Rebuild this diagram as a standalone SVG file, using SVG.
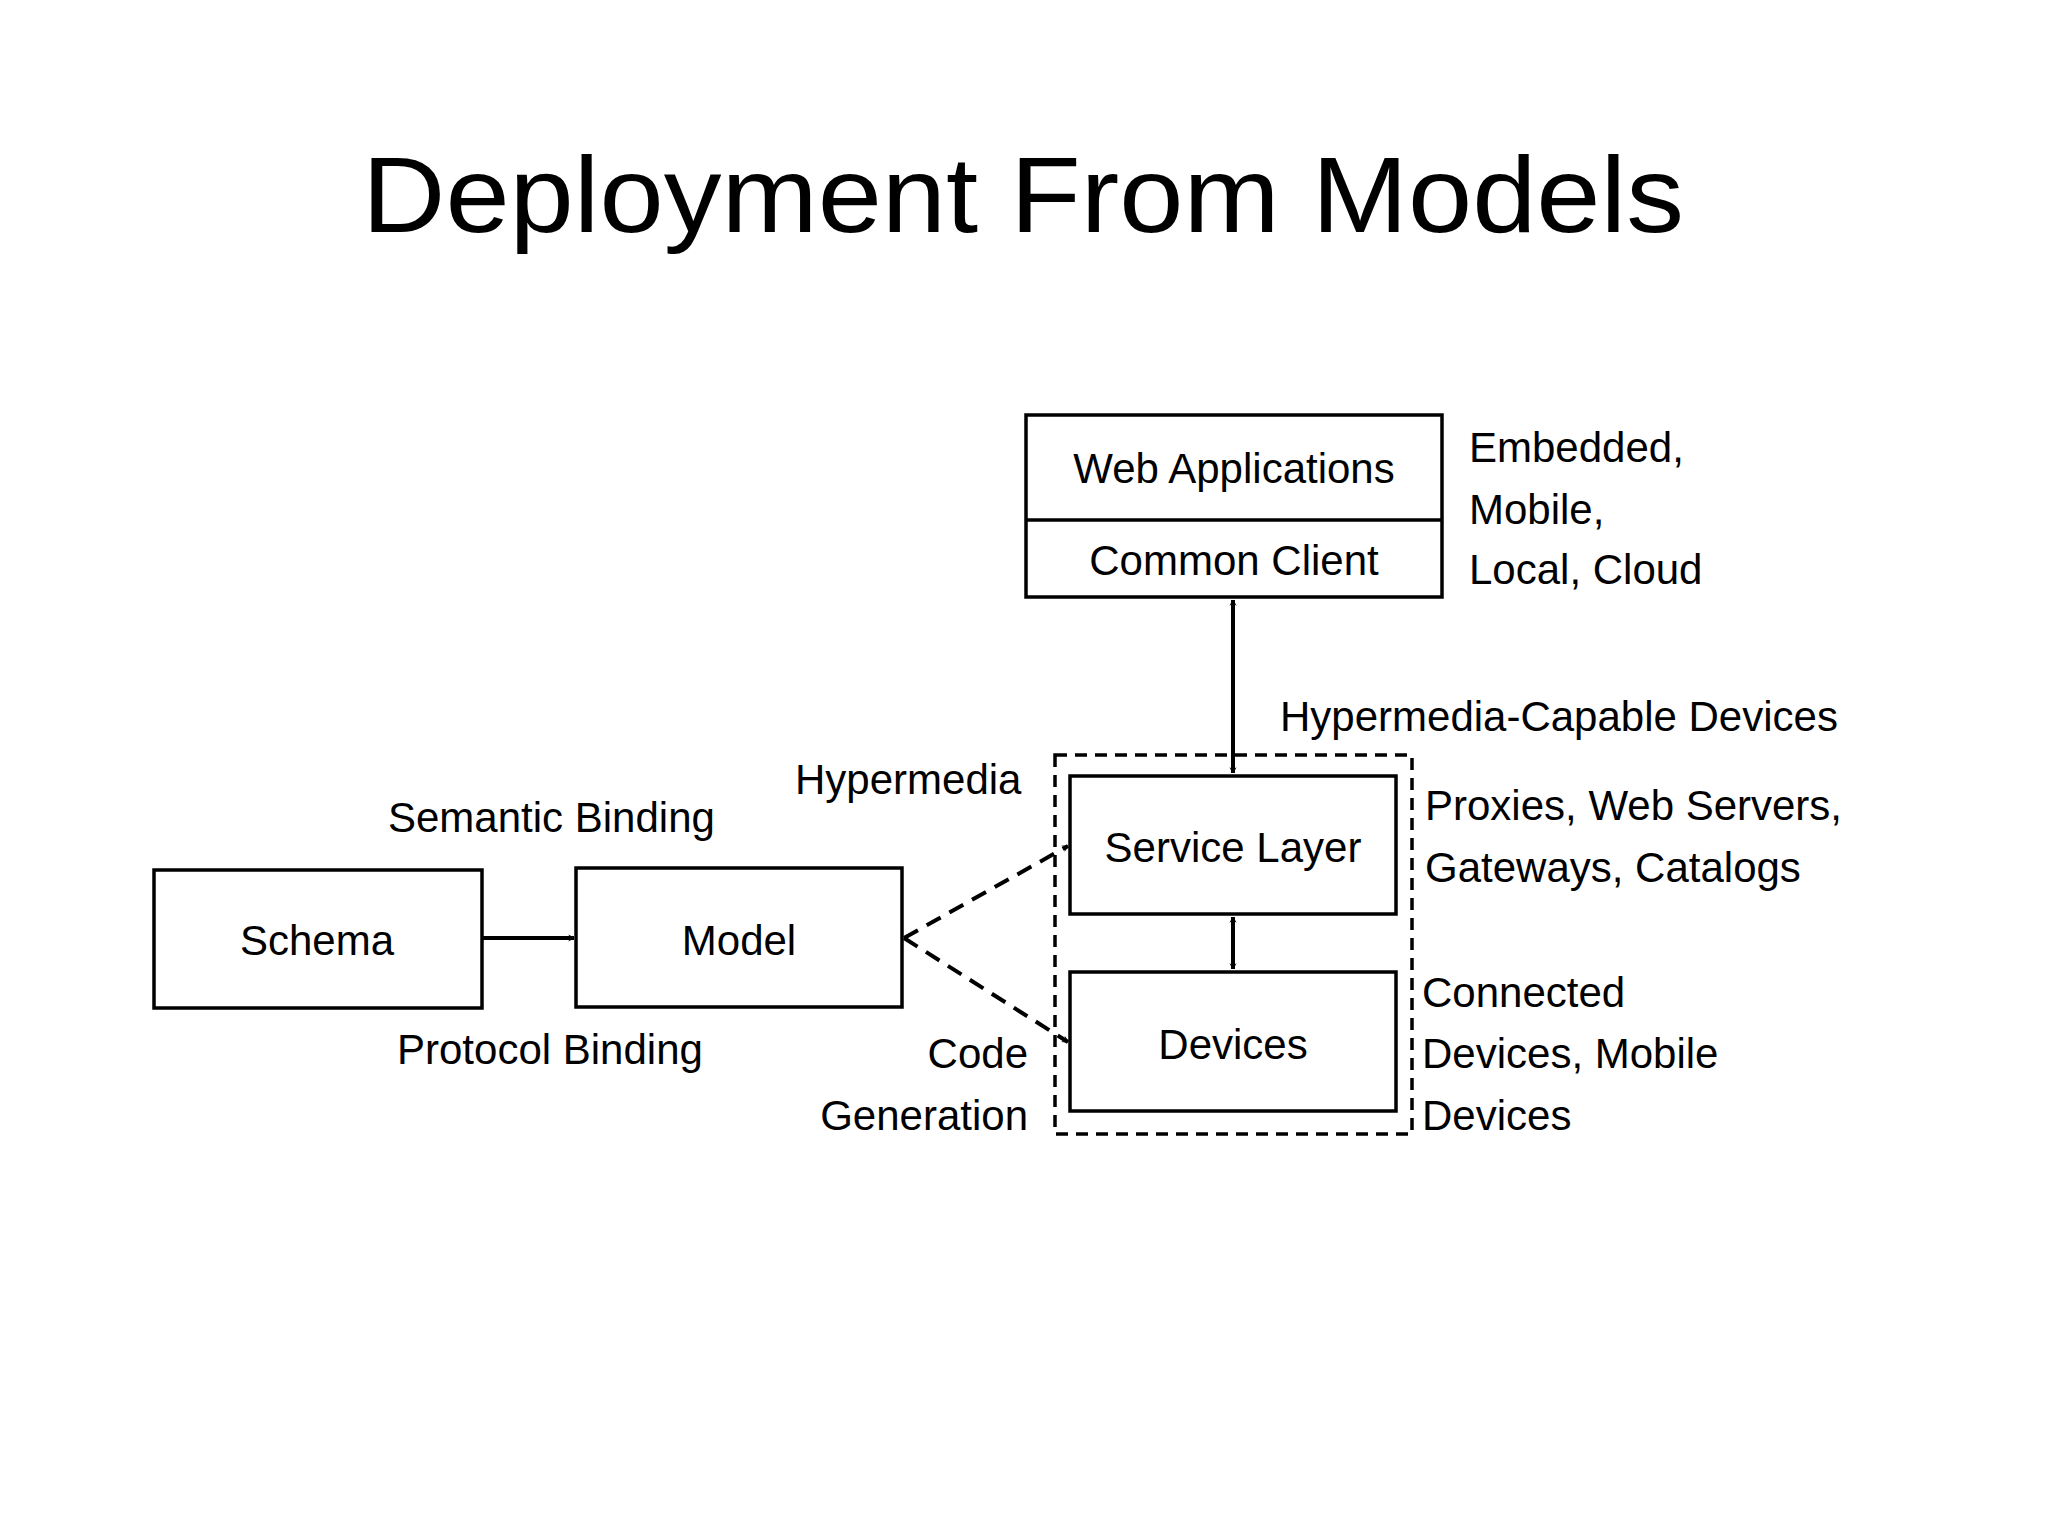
<svg xmlns="http://www.w3.org/2000/svg" width="2048" height="1536" viewBox="0 0 2048 1536">
<style>
text{font-family:"Liberation Sans",Arial,sans-serif;font-size:42px;fill:#000}
.c{text-anchor:middle}.r{text-anchor:end}
.box{fill:#fff;stroke:#000;stroke-width:3.5}
.ln{stroke:#000;stroke-width:4;fill:none}
.d{stroke-dasharray:16 10}
</style>
<defs>
<marker id="a" viewBox="0 0 10 10" refX="9" refY="5" markerWidth="6" markerHeight="6" orient="auto-start-reverse" markerUnits="userSpaceOnUse" style="overflow:visible">
<path d="M0,0 L9,5 L0,10" fill="none" stroke="#000" stroke-width="1.4"/>
</marker>
</defs>
<rect width="2048" height="1536" fill="#fff"/>
<text x="1023" y="232" class="c" style="font-size:108px" textLength="1322" lengthAdjust="spacingAndGlyphs">Deployment From Models</text>
<g id="container"><rect x="1055" y="755" width="357" height="379" fill="none" stroke="#000" stroke-width="3.5" stroke-dasharray="12 8"/></g>
<g id="webapp"><rect class="box" x="1026" y="415" width="416" height="182"/><line class="ln" x1="1026" y1="520" x2="1442" y2="520" style="stroke-width:3.5"/>
<text x="1234" y="483" class="c">Web Applications</text><text x="1234" y="575" class="c">Common Client</text></g>
<g id="service"><rect class="box" x="1070" y="776" width="326" height="138"/><text x="1233" y="862" class="c">Service Layer</text></g>
<g id="devices"><rect class="box" x="1070" y="972" width="326" height="139"/><text x="1233" y="1059" class="c">Devices</text></g>
<g id="schema"><rect class="box" x="154" y="870" width="328" height="138"/><text x="317" y="955" class="c">Schema</text></g>
<g id="model"><rect class="box" x="576" y="868" width="326" height="139"/><text x="739" y="955" class="c">Model</text></g>
<g id="connectors">
<line class="ln" x1="482" y1="938" x2="574" y2="938" marker-end="url(#a)"/>
<line class="ln" x1="1233" y1="600" x2="1233" y2="773" marker-start="url(#a)" marker-end="url(#a)"/>
<line class="ln" x1="1233" y1="917" x2="1233" y2="969" marker-start="url(#a)" marker-end="url(#a)"/>
<line class="ln d" x1="904" y1="938" x2="1068" y2="846" marker-end="url(#a)"/>
<line class="ln d" x1="904" y1="938" x2="1068" y2="1042" marker-end="url(#a)"/>
</g>
<g id="labels">
<text x="1469" y="462">Embedded,</text><text x="1469" y="524">Mobile,</text><text x="1469" y="584">Local, Cloud</text>
<text x="1280" y="731">Hypermedia-Capable Devices</text>
<text x="795" y="794">Hypermedia</text>
<text x="388" y="832">Semantic Binding</text>
<text x="1425" y="820">Proxies, Web Servers,</text><text x="1425" y="882">Gateways, Catalogs</text>
<text x="1422" y="1007">Connected</text><text x="1422" y="1068">Devices, Mobile</text><text x="1422" y="1130">Devices</text>
<text x="397" y="1064">Protocol Binding</text>
<text x="1028" y="1068" class="r">Code</text><text x="1028" y="1130" class="r">Generation</text>
</g>
</svg>
